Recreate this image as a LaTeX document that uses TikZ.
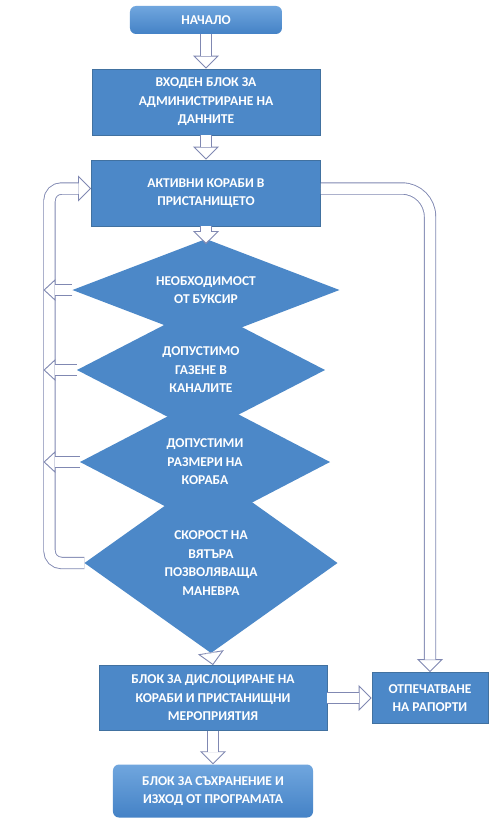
\documentclass[tikz,border=0pt]{standalone}
\usepackage{fontspec}
\setmainfont{Carlito}
\usepackage{tikz}
\usetikzlibrary{positioning}
\usetikzlibrary{shapes.geometric}
\usetikzlibrary{arrows.meta}
\definecolor{boxblue}{RGB}{76,136,200}
\definecolor{boxline}{RGB}{65,113,160}
\definecolor{termtop}{RGB}{112,166,222}
\definecolor{termbot}{RGB}{68,130,198}
\definecolor{arrowline}{RGB}{128,136,178}

\begin{document}
\begin{tikzpicture}[font=\fontsize{13.5}{18.5}\selectfont\bfseries, text=white,
    block/.style={rectangle, draw=boxline, line width=0.8pt, fill=boxblue, align=center, inner sep=0pt},
    term/.style={rectangle, rounded corners=6pt, top color=termtop, bottom color=termbot, align=center, inner sep=0pt},
    test/.style={diamond, fill=boxblue, align=center, inner sep=0pt, outer sep=0pt},
    flow/.style={draw=arrowline, line width=0.9pt, double=white, double distance=10.5pt, shorten >=12.5pt,
        preaction={draw=arrowline, line width=0.9pt, shorten >=0pt, -{Triangle[fill=white, length=13pt, width=26pt]}}},
    side/.style={draw=arrowline, line width=0.9pt, double=white, double distance=10pt, shorten >=11.5pt,
        preaction={draw=arrowline, line width=0.9pt, shorten >=0pt, -{Triangle[fill=white, length=12pt, width=22pt]}}}]
        \path[use as bounding box, fill=white] (-206pt,20pt) rectangle (282pt,-799pt);

        \node [term, minimum width=152pt, minimum height=28pt] (start) {НАЧАЛО};
        \node [block, node distance=82pt, below of=start, minimum width=228pt, minimum height=66pt] (input) {ВХОДЕН БЛОК ЗА\\АДМИНИСТРИРАНЕ НА\\ДАННИТЕ};
        \node [block, node distance=91pt, below of=input, minimum width=229pt, minimum height=66pt] (ships) {АКТИВНИ КОРАБИ В\\ПРИСТАНИЩЕТО};
        % the checks, bottom one first so that each lies under the one above it
        \node [test, aspect=1.4, node distance=370pt, below of=ships, xshift=5pt, minimum width=253pt, minimum height=180pt] (wind) {СКОРОСТ НА\\ВЯТЪРА\\ПОЗВОЛЯВАЩА\\МАНЕВРА};
        \node [test, aspect=1.9, node distance=101pt, above of=wind, xshift=-6pt, minimum width=250pt, minimum height=130pt] (size) {ДОПУСТИМИ\\РАЗМЕРИ НА\\КОРАБА};
        \node [test, aspect=1.9, node distance=92pt, above of=size, xshift=-4pt, minimum width=248pt, minimum height=128pt] (draft) {ДОПУСТИМО\\ГАЗЕНЕ В\\КАНАЛИТЕ};
        \node [test, aspect=2.6, node distance=80pt, above of=draft, xshift=5pt, minimum width=267pt, minimum height=102pt] (tow) {НЕОБХОДИМОСТ\\ОТ БУКСИР};
        \node [block, node distance=135pt, below of=wind, xshift=2pt, minimum width=228pt, minimum height=65pt] (dock) {БЛОК ЗА ДИСЛОЦИРАНЕ НА\\КОРАБИ И ПРИСТАНИЩНИ\\МЕРОПРИЯТИЯ};
        \node [block, node distance=217pt, right of=dock, minimum width=116pt, minimum height=51pt] (report) {ОТПЕЧАТВАНЕ\\НА РАПОРТИ};
        \node [term, node distance=93pt, below of=dock, minimum width=200pt, minimum height=53pt] (finish) {БЛОК ЗА СЪХРАНЕНИЕ И\\ИЗХОД ОТ ПРОГРАМАТА};

        \draw [flow] (start.south) -- (input.north);
        \draw [flow] (input.south) -- (ships.north);
        \draw [flow] (ships.south) -- ([yshift=-5pt]tow.north);
        \draw [flow] (wind.south) -- (dock.north);
        \draw [flow] (dock.south) -- (finish.north);
        \draw [flow] (dock.east) -- (report.west);
        \draw [flow, rounded corners=28pt] ([yshift=4.5pt]ships.east) -| (report.north);

        % back to the ships
        \coordinate [left=35pt of wind.west] (chan);
        \coordinate [left=6pt of chan] (edge);
        \draw [flow, rounded corners=12pt] (wind.west) -- (chan) |- ([yshift=4.5pt]ships.west);
        \foreach \d in {tow, draft, size}
            \draw [side] (\d.west) -- (edge |- \d.west);
\end{tikzpicture}
\end{document}
